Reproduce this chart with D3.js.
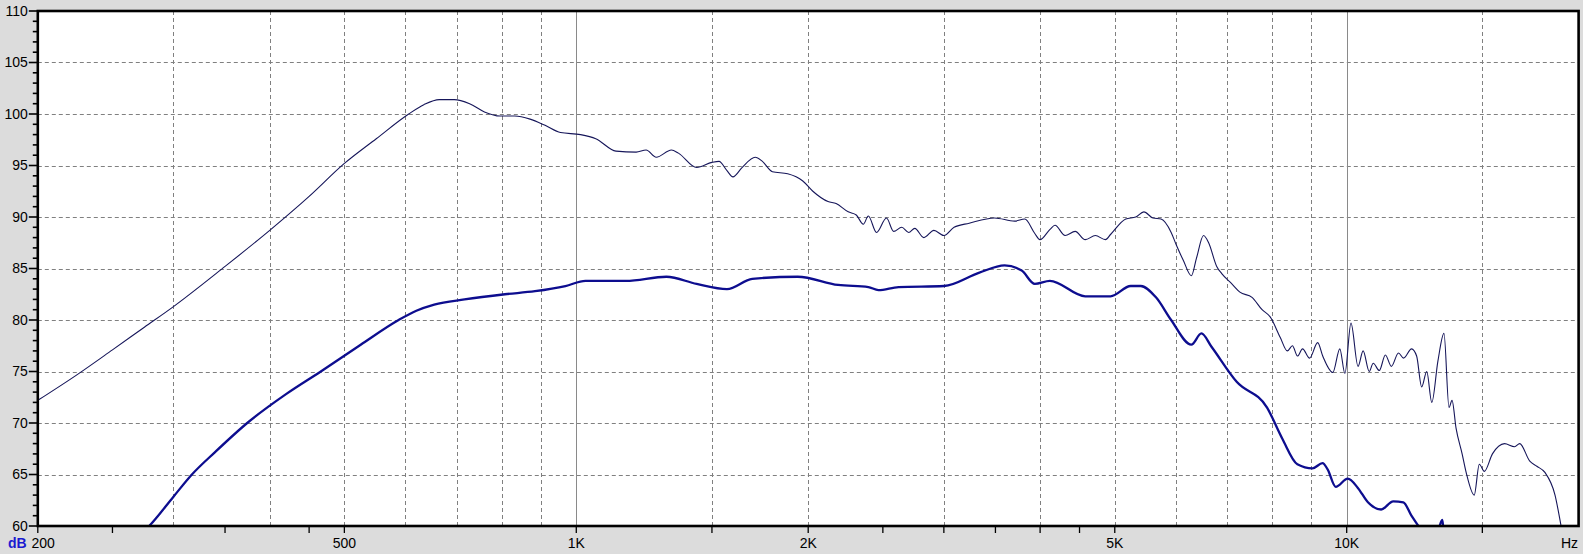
<!DOCTYPE html>
<html><head><meta charset="utf-8">
<script src="https://cdn.jsdelivr.net/npm/d3@7"></script>
<style>
body{margin:0;background:#dcdcdc;overflow:hidden;}
svg{display:block;}
text{font-family:"Liberation Sans",Arial,sans-serif;}
</style>
</head><body>
<svg id="chart" width="1583" height="554"></svg>
<script>
// ---- data ----
const upperFreq = [200,225,250,275,300,350,400,450,500,550,606,634,664,694,727,760,796,832,871,911,954,1013,1060,1126,1196,1232,1270,1329,1357,1433,1500,1532,1569,1597,1641,1707,1744,1797,1881,1968,2028,2122,2174,2254,2309,2358,2394,2453,2527,2582,2645,2701,2750,2826,2912,3001,3093,3236,3491,3707,3821,3937,3998,4120,4182,4310,4442,4578,4718,4863,4937,5167,5324,5454,5605,5742,5918,6008,6136,6287,6383,6519,6619,6781,6884,7095,7268,7536,7766,7956,8200,8375,8503,8633,8764,8951,9170,9309,9594,9797,9947,10129,10345,10504,10696,10825,11024,11226,11429,11674,11851,12141,12325,12513,12703,12897,13134,13374,13578,13701,13866,14120,14291,14640,14864,15090,15459,16028,16519,16770,17285,17654,18085,18639,18980,19300];
const upperDb   = [72.2,74.7,77.1,79.3,81.3,85.2,88.7,92.0,95.2,97.6,100.0,100.9,101.4,101.4,101.0,100.2,99.8,99.8,99.5,98.9,98.2,98.0,97.6,96.4,96.3,96.5,95.8,96.5,96.2,94.8,95.3,95.4,94.5,93.9,94.8,95.8,95.4,94.4,94.2,93.5,92.5,91.5,91.3,90.5,90.2,89.3,90.1,88.5,89.9,88.6,89.0,88.5,88.9,88.0,88.7,88.2,89.0,89.4,89.9,89.6,89.8,88.4,87.8,88.8,89.2,88.2,88.6,87.8,88.2,87.8,88.3,89.8,90.0,90.5,89.9,89.8,88.5,87.3,85.8,84.3,86.0,88.2,87.5,85.2,84.5,83.5,82.7,82.2,81.0,80.3,78.3,77.0,77.5,76.5,77.2,76.3,77.8,76.5,74.9,77.2,74.8,79.7,75.5,77.0,75.0,75.8,75.1,76.6,75.5,76.8,76.3,77.2,76.5,73.5,75.0,72.0,76.0,78.7,71.5,72.2,69.5,67.0,65.2,63.0,66.0,65.3,67.0,68.0,67.7,68.0,66.3,65.8,65.2,63.0,60.0,57.0];

const lowerFreq = [270,279,300,317,340,374,420,466,525,588,620,654,716,808,884,968,1028,1160,1309,1433,1569,1692,1938,2187,2394,2467,2620,3001,3336,3597,3786,3937,4119,4578,4937,5244,5405,5655,5917,6285,6478,6676,7198,7882,8247,8629,9028,9304,9446,9677,10033,10340,10656,11085,11494,11845,12135,12394,12800,13150,13304,13340,13500];
const lowerDb   = [59.0,60.0,62.85,65.0,67.2,70.0,72.8,75.0,77.6,80.0,80.9,81.5,82.0,82.5,82.8,83.3,83.8,83.8,84.2,83.5,83.0,84.0,84.2,83.4,83.2,82.9,83.2,83.3,84.6,85.3,84.8,83.5,83.8,82.3,82.3,83.3,83.3,82.2,80.0,77.6,78.7,77.4,74.0,71.5,68.5,66.0,65.6,66.1,65.5,63.8,64.6,63.7,62.3,61.6,62.4,62.3,61.0,60.0,58.5,59.6,60.6,60.0,58.0];

const yLabelValues = [60,65,70,75,80,85,90,95,100,105,110];
const yMinorValues = d3.range(60,111,1);
const xLabelFreqs = [500,1000,2000,5000,10000];
const xLabelTexts = ["500","1K","2K","5K","10K"];
const gridDashedFreqs = [300,400,500,600,700,800,900,1500,2000,3000,4000,5000,6000,7000,8000,9000,15000];
const gridSolidFreqs = [1000,10000];
const xTickFreqs = [200,250,350,450,500,1000,1500,2000,2500,3000,3500,4000,4500,5000,10000,15000];

// ---- scales ----
const svg = d3.select("#chart");
const x = d3.scaleLog().domain([200,20000]).range([37.8,1578.6]);
const y = d3.scaleLinear().domain([60,110]).range([526,11]);
const L = x(200), R = x(20000), T = y(110), B = y(60);

svg.append("rect").attr("width",1583).attr("height",554).attr("fill","#dcdcdc");
svg.append("rect").attr("x",L).attr("y",T).attr("width",R-L).attr("height",B-T).attr("fill","#fff");

svg.append("defs").append("clipPath").attr("id","clip")
  .append("rect").attr("x",L).attr("y",T).attr("width",R-L).attr("height",B-T);

// grid
const grid = svg.append("g");
grid.selectAll("line.h").data(yLabelValues.filter(v=>v>60&&v<110)).join("line")
  .attr("x1",L).attr("x2",R).attr("y1",d=>Math.round(y(d))+0.5).attr("y2",d=>Math.round(y(d))+0.5)
  .attr("stroke","#808080").attr("stroke-width",1).attr("stroke-dasharray","4,3");
grid.selectAll("line.v").data(gridDashedFreqs).join("line")
  .attr("x1",d=>Math.round(x(d))+0.5).attr("x2",d=>Math.round(x(d))+0.5).attr("y1",T).attr("y2",B)
  .attr("stroke","#808080").attr("stroke-width",1).attr("stroke-dasharray","4,3");
svg.append("g").selectAll("line").data(gridSolidFreqs).join("line")
  .attr("x1",d=>Math.round(x(d))+0.5).attr("x2",d=>Math.round(x(d))+0.5).attr("y1",T).attr("y2",B)
  .attr("stroke","#8a8a8a").attr("stroke-width",1);

// curves
const plot = svg.append("g").attr("clip-path","url(#clip)");
const upper = d3.zip(upperFreq, upperDb);
const lower = d3.zip(lowerFreq, lowerDb);
plot.append("path").datum(lower)
  .attr("d", d3.line().x(d=>x(d[0])).y(d=>y(d[1])).curve(d3.curveMonotoneX))
  .attr("fill","none").attr("stroke","#0d0d8f").attr("stroke-width",2.3).attr("stroke-linejoin","round");
plot.append("path").datum(upper)
  .attr("d", d3.line().x(d=>x(d[0])).y(d=>y(d[1])).curve(d3.curveMonotoneX))
  .attr("fill","none").attr("stroke","#16165a").attr("stroke-width",1.1).attr("stroke-linejoin","round");

// border
svg.append("rect").attr("x",L).attr("y",T).attr("width",R-L).attr("height",B-T)
  .attr("fill","none").attr("stroke","#000").attr("stroke-width",2.6);

// y ticks
svg.append("g").selectAll("line").data(yMinorValues).join("line")
  .attr("x1",d=> d%5===0 ? L-9 : L-5).attr("x2",L)
  .attr("y1",d=>y(d)).attr("y2",d=>y(d))
  .attr("stroke","#000").attr("stroke-width",1.6);
svg.append("g").selectAll("text").data(yLabelValues).join("text")
  .attr("x",L-10).attr("y",d=>y(d)).attr("dy","0.35em").attr("text-anchor","end")
  .attr("font-size",14).attr("fill","#000").text(d=>d);

// x ticks
svg.append("g").selectAll("line").data(xTickFreqs).join("line")
  .attr("x1",d=>x(d)).attr("x2",d=>x(d)).attr("y1",B).attr("y2",B+7)
  .attr("stroke","#000").attr("stroke-width",1.3);
svg.append("g").selectAll("text").data(xLabelFreqs).join("text")
  .attr("x",d=>x(d)).attr("y",548).attr("text-anchor","middle")
  .attr("font-size",14).attr("fill","#000").text((d,i)=>xLabelTexts[i]);

// corner labels
svg.append("text").attr("x",8).attr("y",548).attr("font-size",14).attr("font-weight","bold")
  .attr("fill","#1a1ad0").text("dB");
svg.append("text").attr("x",31.5).attr("y",548).attr("font-size",14).attr("fill","#000").text("200");
svg.append("text").attr("x",1578).attr("y",548).attr("text-anchor","end").attr("font-size",14).attr("fill","#000").text("Hz");
</script>
</body></html>
